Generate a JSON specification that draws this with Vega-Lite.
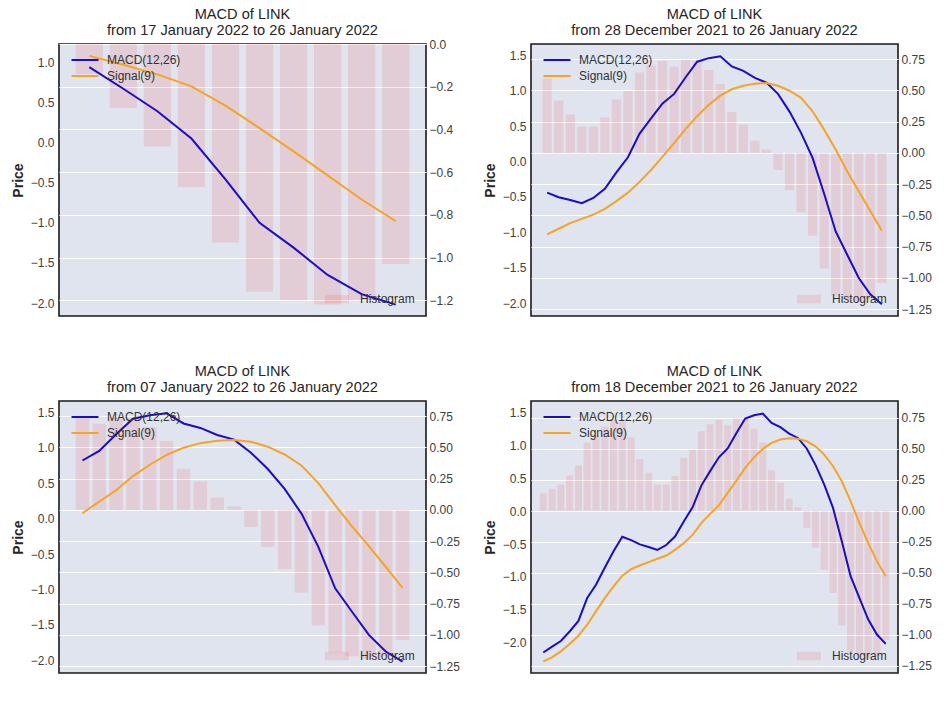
{
  "$schema": "https://vega.github.io/schema/vega-lite/v6.json",
  "background": "white",
  "padding": {"left": 10, "top": 6, "right": 5, "bottom": 5},
  "columns": 2,
  "spacing": {"row": 46, "column": 21},
  "datasets": {
    "p1": [
      {"date": "2022-01-17", "macd": 0.94, "signal": 1.08, "hist": -0.14},
      {"date": "2022-01-18", "macd": 0.67, "signal": 0.97, "hist": -0.3},
      {"date": "2022-01-19", "macd": 0.39, "signal": 0.85, "hist": -0.48},
      {"date": "2022-01-20", "macd": 0.05, "signal": 0.7, "hist": -0.67},
      {"date": "2022-01-21", "macd": -0.46, "signal": 0.46, "hist": -0.93},
      {"date": "2022-01-22", "macd": -1.0, "signal": 0.18, "hist": -1.16},
      {"date": "2022-01-23", "macd": -1.31, "signal": -0.11, "hist": -1.2},
      {"date": "2022-01-24", "macd": -1.65, "signal": -0.41, "hist": -1.22},
      {"date": "2022-01-25", "macd": -1.89, "signal": -0.71, "hist": -1.2},
      {"date": "2022-01-26", "macd": -2.02, "signal": -0.98, "hist": -1.03}
    ],
    "p2": [
      {"date": "2021-12-28", "macd": -0.44, "signal": -1.03, "hist": 0.595},
      {"date": "2021-12-29", "macd": -0.505, "signal": -0.95, "hist": 0.418},
      {"date": "2021-12-30", "macd": -0.545, "signal": -0.87, "hist": 0.308},
      {"date": "2021-12-31", "macd": -0.59, "signal": -0.81, "hist": 0.212},
      {"date": "2022-01-01", "macd": -0.515, "signal": -0.75, "hist": 0.212},
      {"date": "2022-01-02", "macd": -0.385, "signal": -0.67, "hist": 0.283},
      {"date": "2022-01-03", "macd": -0.155, "signal": -0.56, "hist": 0.428},
      {"date": "2022-01-04", "macd": 0.06, "signal": -0.44, "hist": 0.494},
      {"date": "2022-01-05", "macd": 0.39, "signal": -0.29, "hist": 0.643},
      {"date": "2022-01-06", "macd": 0.61, "signal": -0.12, "hist": 0.7},
      {"date": "2022-01-07", "macd": 0.82, "signal": 0.07, "hist": 0.736},
      {"date": "2022-01-08", "macd": 0.955, "signal": 0.26, "hist": 0.69},
      {"date": "2022-01-09", "macd": 1.19, "signal": 0.46, "hist": 0.748},
      {"date": "2022-01-10", "macd": 1.41, "signal": 0.64, "hist": 0.74},
      {"date": "2022-01-11", "macd": 1.46, "signal": 0.8, "hist": 0.663},
      {"date": "2022-01-12", "macd": 1.486, "signal": 0.93, "hist": 0.552},
      {"date": "2022-01-13", "macd": 1.343, "signal": 1.02, "hist": 0.328},
      {"date": "2022-01-14", "macd": 1.28, "signal": 1.07, "hist": 0.228},
      {"date": "2022-01-15", "macd": 1.18, "signal": 1.1, "hist": 0.098},
      {"date": "2022-01-16", "macd": 1.115, "signal": 1.11, "hist": 0.028},
      {"date": "2022-01-17", "macd": 0.955, "signal": 1.07, "hist": -0.137},
      {"date": "2022-01-18", "macd": 0.705, "signal": 1.0, "hist": -0.296},
      {"date": "2022-01-19", "macd": 0.405, "signal": 0.9, "hist": -0.475},
      {"date": "2022-01-20", "macd": 0.05, "signal": 0.71, "hist": -0.663},
      {"date": "2022-01-21", "macd": -0.456, "signal": 0.45, "hist": -0.925},
      {"date": "2022-01-22", "macd": -0.988, "signal": 0.17, "hist": -1.14},
      {"date": "2022-01-23", "macd": -1.317, "signal": -0.14, "hist": -1.17},
      {"date": "2022-01-24", "macd": -1.646, "signal": -0.42, "hist": -1.19},
      {"date": "2022-01-25", "macd": -1.877, "signal": -0.7, "hist": -1.17},
      {"date": "2022-01-26", "macd": -2.018, "signal": -0.98, "hist": -1.04}
    ],
    "p3": [
      {"date": "2022-01-07", "macd": 0.82, "signal": 0.075, "hist": 0.736},
      {"date": "2022-01-08", "macd": 0.955, "signal": 0.24, "hist": 0.69},
      {"date": "2022-01-09", "macd": 1.19, "signal": 0.4, "hist": 0.748},
      {"date": "2022-01-10", "macd": 1.41, "signal": 0.6, "hist": 0.74},
      {"date": "2022-01-11", "macd": 1.46, "signal": 0.76, "hist": 0.663},
      {"date": "2022-01-12", "macd": 1.486, "signal": 0.9, "hist": 0.552},
      {"date": "2022-01-13", "macd": 1.343, "signal": 1.0, "hist": 0.328},
      {"date": "2022-01-14", "macd": 1.28, "signal": 1.065, "hist": 0.228},
      {"date": "2022-01-15", "macd": 1.18, "signal": 1.1, "hist": 0.098},
      {"date": "2022-01-16", "macd": 1.115, "signal": 1.11, "hist": 0.028},
      {"date": "2022-01-17", "macd": 0.93, "signal": 1.085, "hist": -0.137},
      {"date": "2022-01-18", "macd": 0.7, "signal": 1.015, "hist": -0.296},
      {"date": "2022-01-19", "macd": 0.42, "signal": 0.905, "hist": -0.475},
      {"date": "2022-01-20", "macd": 0.07, "signal": 0.75, "hist": -0.663},
      {"date": "2022-01-21", "macd": -0.4, "signal": 0.5, "hist": -0.925},
      {"date": "2022-01-22", "macd": -0.985, "signal": 0.19, "hist": -1.14},
      {"date": "2022-01-23", "macd": -1.315, "signal": -0.11, "hist": -1.17},
      {"date": "2022-01-24", "macd": -1.643, "signal": -0.39, "hist": -1.19},
      {"date": "2022-01-25", "macd": -1.877, "signal": -0.68, "hist": -1.17},
      {"date": "2022-01-26", "macd": -2.018, "signal": -0.98, "hist": -1.04}
    ],
    "p4": [
      {"date": "2021-12-18", "macd": -2.15, "signal": -2.285, "hist": 0.14},
      {"date": "2021-12-19", "macd": -2.06, "signal": -2.224, "hist": 0.177},
      {"date": "2021-12-20", "macd": -1.975, "signal": -2.133, "hist": 0.212},
      {"date": "2021-12-21", "macd": -1.83, "signal": -2.02, "hist": 0.285},
      {"date": "2021-12-22", "macd": -1.67, "signal": -1.895, "hist": 0.367},
      {"date": "2021-12-23", "macd": -1.32, "signal": -1.727, "hist": 0.55},
      {"date": "2021-12-24", "macd": -1.12, "signal": -1.525, "hist": 0.61},
      {"date": "2021-12-25", "macd": -0.86, "signal": -1.322, "hist": 0.68},
      {"date": "2021-12-26", "macd": -0.61, "signal": -1.145, "hist": 0.73},
      {"date": "2021-12-27", "macd": -0.39, "signal": -0.983, "hist": 0.72},
      {"date": "2021-12-28", "macd": -0.44, "signal": -0.881, "hist": 0.595},
      {"date": "2021-12-29", "macd": -0.505, "signal": -0.826, "hist": 0.418},
      {"date": "2021-12-30", "macd": -0.545, "signal": -0.775, "hist": 0.308},
      {"date": "2021-12-31", "macd": -0.59, "signal": -0.724, "hist": 0.212},
      {"date": "2022-01-01", "macd": -0.515, "signal": -0.674, "hist": 0.212},
      {"date": "2022-01-02", "macd": -0.385, "signal": -0.588, "hist": 0.283},
      {"date": "2022-01-03", "macd": -0.155, "signal": -0.486, "hist": 0.428},
      {"date": "2022-01-04", "macd": 0.06, "signal": -0.36, "hist": 0.494},
      {"date": "2022-01-05", "macd": 0.39, "signal": -0.182, "hist": 0.643},
      {"date": "2022-01-06", "macd": 0.61, "signal": -0.04, "hist": 0.7},
      {"date": "2022-01-07", "macd": 0.82, "signal": 0.09, "hist": 0.736},
      {"date": "2022-01-08", "macd": 0.955, "signal": 0.28, "hist": 0.69},
      {"date": "2022-01-09", "macd": 1.19, "signal": 0.466, "hist": 0.748},
      {"date": "2022-01-10", "macd": 1.41, "signal": 0.658, "hist": 0.74},
      {"date": "2022-01-11", "macd": 1.46, "signal": 0.82, "hist": 0.663},
      {"date": "2022-01-12", "macd": 1.486, "signal": 0.947, "hist": 0.552},
      {"date": "2022-01-13", "macd": 1.343, "signal": 1.04, "hist": 0.328},
      {"date": "2022-01-14", "macd": 1.28, "signal": 1.09, "hist": 0.228},
      {"date": "2022-01-15", "macd": 1.18, "signal": 1.11, "hist": 0.098},
      {"date": "2022-01-16", "macd": 1.115, "signal": 1.104, "hist": 0.028},
      {"date": "2022-01-17", "macd": 0.955, "signal": 1.064, "hist": -0.137},
      {"date": "2022-01-18", "macd": 0.705, "signal": 0.988, "hist": -0.296},
      {"date": "2022-01-19", "macd": 0.405, "signal": 0.861, "hist": -0.475},
      {"date": "2022-01-20", "macd": 0.05, "signal": 0.684, "hist": -0.663},
      {"date": "2022-01-21", "macd": -0.456, "signal": 0.456, "hist": -0.925},
      {"date": "2022-01-22", "macd": -0.988, "signal": 0.152, "hist": -1.14},
      {"date": "2022-01-23", "macd": -1.317, "signal": -0.177, "hist": -1.17},
      {"date": "2022-01-24", "macd": -1.646, "signal": -0.481, "hist": -1.19},
      {"date": "2022-01-25", "macd": -1.877, "signal": -0.76, "hist": -1.17},
      {"date": "2022-01-26", "macd": -2.018, "signal": -0.988, "hist": -1.04}
    ]
  },
  "concat": [
    {
      "data": {"name": "p1"},
      "width": 367,
      "height": 272,
      "title": {"text": ["MACD of LINK", "from 17 January 2022 to 26 January 2022"], "offset": 0},
      "resolve": {"scale": {"y": "independent"}},
      "layer": [
        {
          "mark": {"type": "bar", "opacity": 0.1},
          "encoding": {
            "x": {"field": "date", "type": "ordinal", "axis": null, "scale": {"type": "band", "paddingInner": 0.2, "paddingOuter": 0.49}},
            "y": {"field": "hist", "type": "quantitative", "scale": {"domain": [-1.274, 0], "nice": false, "zero": false},
                  "axis": {"orient": "right", "title": null, "format": ".1f", "values": [0, -0.2, -0.4, -0.6, -0.8, -1.0, -1.2], "labelPadding": 3}},
            "fill": {"datum": "Histogram", "scale": {"domain": ["Histogram"], "range": ["#ff0000"]},
                     "legend": {"orient": "none", "legendX": 272, "legendY": 249, "title": null, "symbolType": "M-2,-0.7L2,-0.7L2,0.7L-2,0.7Z", "symbolSize": 144, "symbolOpacity": 0.1, "symbolStrokeWidth": 0, "labelOffset": 17, "labelFontSize": 12}}
          }
        },
        {
          "layer": [
            {
              "mark": {"type": "line", "strokeWidth": 2},
              "encoding": {
                "x": {"field": "date", "type": "ordinal", "axis": null, "bandPosition": 0.5, "scale": {"type": "band", "paddingInner": 0.2, "paddingOuter": 0.49}},
                "y": {"field": "macd", "type": "quantitative", "title": "Price", "scale": {"domain": [-2.162, 1.228], "nice": false, "zero": false},
                      "axis": {"orient": "left", "format": ".1f", "values": [-2, -1.5, -1, -0.5, 0, 0.5, 1, 1.5]}},
                "stroke": {"datum": "MACD(12,26)", "scale": {"domain": ["MACD(12,26)", "Signal(9)"], "range": ["#1a0ccc", "#f5a524"]},
                           "legend": {"orient": "none", "legendX": 18, "legendY": 8, "title": null, "symbolType": "M-2,0L2,0", "symbolSize": 182, "symbolStrokeWidth": 2, "labelOffset": 14, "labelFontSize": 12}}
              }
            },
            {
              "mark": {"type": "line", "strokeWidth": 2},
              "encoding": {
                "x": {"field": "date", "type": "ordinal", "axis": null, "bandPosition": 0.5, "scale": {"type": "band", "paddingInner": 0.2, "paddingOuter": 0.49}},
                "y": {"field": "signal", "type": "quantitative", "title": "Price", "scale": {"domain": [-2.162, 1.228], "nice": false, "zero": false},
                      "axis": {"orient": "left", "format": ".1f", "values": [-2, -1.5, -1, -0.5, 0, 0.5, 1, 1.5]}},
                "stroke": {"datum": "Signal(9)", "scale": {"domain": ["MACD(12,26)", "Signal(9)"], "range": ["#1a0ccc", "#f5a524"]},
                           "legend": {"orient": "none", "legendX": 18, "legendY": 8, "title": null, "symbolType": "M-2,0L2,0", "symbolSize": 182, "symbolStrokeWidth": 2, "labelOffset": 14, "labelFontSize": 12}}
              }
            }
          ]
        }
      ]
    },
    {
      "data": {"name": "p2"},
      "width": 367,
      "height": 272,
      "title": {"text": ["MACD of LINK", "from 28 December 2021 to 26 January 2022"]},
      "resolve": {"scale": {"y": "independent"}},
      "layer": [
        {
          "mark": {"type": "bar", "opacity": 0.1},
          "encoding": {
            "x": {"field": "date", "type": "ordinal", "axis": null, "scale": {"type": "band", "paddingInner": 0.2, "paddingOuter": 1.49}},
            "y": {"field": "hist", "type": "quantitative", "scale": {"domain": [-1.305, 0.871], "nice": false, "zero": false},
                  "axis": {"orient": "right", "title": null, "format": ".2f", "values": [0.75, 0.5, 0.25, 0, -0.25, -0.5, -0.75, -1.0, -1.25], "labelPadding": 3}},
            "fill": {"datum": "Histogram", "scale": {"domain": ["Histogram"], "range": ["#ff0000"]},
                     "legend": {"orient": "none", "legendX": 272, "legendY": 249, "title": null, "symbolType": "M-2,-0.7L2,-0.7L2,0.7L-2,0.7Z", "symbolSize": 144, "symbolOpacity": 0.1, "symbolStrokeWidth": 0, "labelOffset": 17, "labelFontSize": 12}}
          }
        },
        {
          "layer": [
            {
              "mark": {"type": "line", "strokeWidth": 2},
              "encoding": {
                "x": {"field": "date", "type": "ordinal", "axis": null, "bandPosition": 0.5, "scale": {"type": "band", "paddingInner": 0.2, "paddingOuter": 1.49}},
                "y": {"field": "macd", "type": "quantitative", "title": "Price", "scale": {"domain": [-2.183, 1.66], "nice": false, "zero": false},
                      "axis": {"orient": "left", "format": ".1f", "values": [-2, -1.5, -1, -0.5, 0, 0.5, 1, 1.5]}},
                "stroke": {"datum": "MACD(12,26)", "scale": {"domain": ["MACD(12,26)", "Signal(9)"], "range": ["#1a0ccc", "#f5a524"]},
                           "legend": {"orient": "none", "legendX": 18, "legendY": 8, "title": null, "symbolType": "M-2,0L2,0", "symbolSize": 182, "symbolStrokeWidth": 2, "labelOffset": 14, "labelFontSize": 12}}
              }
            },
            {
              "mark": {"type": "line", "strokeWidth": 2},
              "encoding": {
                "x": {"field": "date", "type": "ordinal", "axis": null, "bandPosition": 0.5, "scale": {"type": "band", "paddingInner": 0.2, "paddingOuter": 1.49}},
                "y": {"field": "signal", "type": "quantitative", "title": "Price", "scale": {"domain": [-2.183, 1.66], "nice": false, "zero": false},
                      "axis": {"orient": "left", "format": ".1f", "values": [-2, -1.5, -1, -0.5, 0, 0.5, 1, 1.5]}},
                "stroke": {"datum": "Signal(9)", "scale": {"domain": ["MACD(12,26)", "Signal(9)"], "range": ["#1a0ccc", "#f5a524"]},
                           "legend": {"orient": "none", "legendX": 18, "legendY": 8, "title": null, "symbolType": "M-2,0L2,0", "symbolSize": 182, "symbolStrokeWidth": 2, "labelOffset": 14, "labelFontSize": 12}}
              }
            }
          ]
        }
      ]
    },
    {
      "data": {"name": "p3"},
      "width": 367,
      "height": 272,
      "title": {"text": ["MACD of LINK", "from 07 January 2022 to 26 January 2022"]},
      "resolve": {"scale": {"y": "independent"}},
      "layer": [
        {
          "mark": {"type": "bar", "opacity": 0.1},
          "encoding": {
            "x": {"field": "date", "type": "ordinal", "axis": null, "scale": {"type": "band", "paddingInner": 0.2, "paddingOuter": 0.99}},
            "y": {"field": "hist", "type": "quantitative", "scale": {"domain": [-1.305, 0.871], "nice": false, "zero": false},
                  "axis": {"orient": "right", "title": null, "format": ".2f", "values": [0.75, 0.5, 0.25, 0, -0.25, -0.5, -0.75, -1.0, -1.25], "labelPadding": 3}},
            "fill": {"datum": "Histogram", "scale": {"domain": ["Histogram"], "range": ["#ff0000"]},
                     "legend": {"orient": "none", "legendX": 272, "legendY": 249, "title": null, "symbolType": "M-2,-0.7L2,-0.7L2,0.7L-2,0.7Z", "symbolSize": 144, "symbolOpacity": 0.1, "symbolStrokeWidth": 0, "labelOffset": 17, "labelFontSize": 12}}
          }
        },
        {
          "layer": [
            {
              "mark": {"type": "line", "strokeWidth": 2},
              "encoding": {
                "x": {"field": "date", "type": "ordinal", "axis": null, "bandPosition": 0.5, "scale": {"type": "band", "paddingInner": 0.2, "paddingOuter": 0.99}},
                "y": {"field": "macd", "type": "quantitative", "title": "Price", "scale": {"domain": [-2.18, 1.66], "nice": false, "zero": false},
                      "axis": {"orient": "left", "format": ".1f", "values": [-2, -1.5, -1, -0.5, 0, 0.5, 1, 1.5]}},
                "stroke": {"datum": "MACD(12,26)", "scale": {"domain": ["MACD(12,26)", "Signal(9)"], "range": ["#1a0ccc", "#f5a524"]},
                           "legend": {"orient": "none", "legendX": 18, "legendY": 8, "title": null, "symbolType": "M-2,0L2,0", "symbolSize": 182, "symbolStrokeWidth": 2, "labelOffset": 14, "labelFontSize": 12}}
              }
            },
            {
              "mark": {"type": "line", "strokeWidth": 2},
              "encoding": {
                "x": {"field": "date", "type": "ordinal", "axis": null, "bandPosition": 0.5, "scale": {"type": "band", "paddingInner": 0.2, "paddingOuter": 0.99}},
                "y": {"field": "signal", "type": "quantitative", "title": "Price", "scale": {"domain": [-2.18, 1.66], "nice": false, "zero": false},
                      "axis": {"orient": "left", "format": ".1f", "values": [-2, -1.5, -1, -0.5, 0, 0.5, 1, 1.5]}},
                "stroke": {"datum": "Signal(9)", "scale": {"domain": ["MACD(12,26)", "Signal(9)"], "range": ["#1a0ccc", "#f5a524"]},
                           "legend": {"orient": "none", "legendX": 18, "legendY": 8, "title": null, "symbolType": "M-2,0L2,0", "symbolSize": 182, "symbolStrokeWidth": 2, "labelOffset": 14, "labelFontSize": 12}}
              }
            }
          ]
        }
      ]
    },
    {
      "data": {"name": "p4"},
      "width": 367,
      "height": 272,
      "title": {"text": ["MACD of LINK", "from 18 December 2021 to 26 January 2022"]},
      "resolve": {"scale": {"y": "independent"}},
      "layer": [
        {
          "mark": {"type": "bar", "opacity": 0.1},
          "encoding": {
            "x": {"field": "date", "type": "ordinal", "axis": null, "scale": {"type": "band", "paddingInner": 0.2, "paddingOuter": 1.99}},
            "y": {"field": "hist", "type": "quantitative", "scale": {"domain": [-1.309, 0.887], "nice": false, "zero": false},
                  "axis": {"orient": "right", "title": null, "format": ".2f", "values": [0.75, 0.5, 0.25, 0, -0.25, -0.5, -0.75, -1.0, -1.25], "labelPadding": 3}},
            "fill": {"datum": "Histogram", "scale": {"domain": ["Histogram"], "range": ["#ff0000"]},
                     "legend": {"orient": "none", "legendX": 272, "legendY": 249, "title": null, "symbolType": "M-2,-0.7L2,-0.7L2,0.7L-2,0.7Z", "symbolSize": 144, "symbolOpacity": 0.1, "symbolStrokeWidth": 0, "labelOffset": 17, "labelFontSize": 12}}
          }
        },
        {
          "layer": [
            {
              "mark": {"type": "line", "strokeWidth": 2},
              "encoding": {
                "x": {"field": "date", "type": "ordinal", "axis": null, "bandPosition": 0.5, "scale": {"type": "band", "paddingInner": 0.2, "paddingOuter": 1.99}},
                "y": {"field": "macd", "type": "quantitative", "title": "Price", "scale": {"domain": [-2.462, 1.677], "nice": false, "zero": false},
                      "axis": {"orient": "left", "format": ".1f", "values": [-2, -1.5, -1, -0.5, 0, 0.5, 1, 1.5]}},
                "stroke": {"datum": "MACD(12,26)", "scale": {"domain": ["MACD(12,26)", "Signal(9)"], "range": ["#1a0ccc", "#f5a524"]},
                           "legend": {"orient": "none", "legendX": 18, "legendY": 8, "title": null, "symbolType": "M-2,0L2,0", "symbolSize": 182, "symbolStrokeWidth": 2, "labelOffset": 14, "labelFontSize": 12}}
              }
            },
            {
              "mark": {"type": "line", "strokeWidth": 2},
              "encoding": {
                "x": {"field": "date", "type": "ordinal", "axis": null, "bandPosition": 0.5, "scale": {"type": "band", "paddingInner": 0.2, "paddingOuter": 1.99}},
                "y": {"field": "signal", "type": "quantitative", "title": "Price", "scale": {"domain": [-2.462, 1.677], "nice": false, "zero": false},
                      "axis": {"orient": "left", "format": ".1f", "values": [-2, -1.5, -1, -0.5, 0, 0.5, 1, 1.5]}},
                "stroke": {"datum": "Signal(9)", "scale": {"domain": ["MACD(12,26)", "Signal(9)"], "range": ["#1a0ccc", "#f5a524"]},
                           "legend": {"orient": "none", "legendX": 18, "legendY": 8, "title": null, "symbolType": "M-2,0L2,0", "symbolSize": 182, "symbolStrokeWidth": 2, "labelOffset": 14, "labelFontSize": 12}}
              }
            }
          ]
        }
      ]
    }
  ],
  "resolve": {"scale": {"stroke": "independent", "fill": "independent"}},
  "config": {
    "font": "Liberation Sans",
    "view": {"fill": "#dfe4ee", "stroke": "#1a1a1a", "strokeWidth": 1.6},
    "title": {"fontSize": 14.6, "fontWeight": "normal", "color": "#262626", "lineHeight": 16, "frame": "group", "anchor": "middle", "offset": 6},
    "axis": {"grid": true, "gridColor": "#ffffff", "gridWidth": 1.2, "gridOpacity": 1, "domain": false, "ticks": false,
             "labelFontSize": 12, "labelColor": "#404040", "labelPadding": 5,
             "titleFontSize": 14, "titleFontWeight": "bold", "titleColor": "#262626", "titlePadding": 5},
    "legend": {"labelFontSize": 12, "labelColor": "#333333", "rowPadding": 2, "padding": 0}
  }
}
